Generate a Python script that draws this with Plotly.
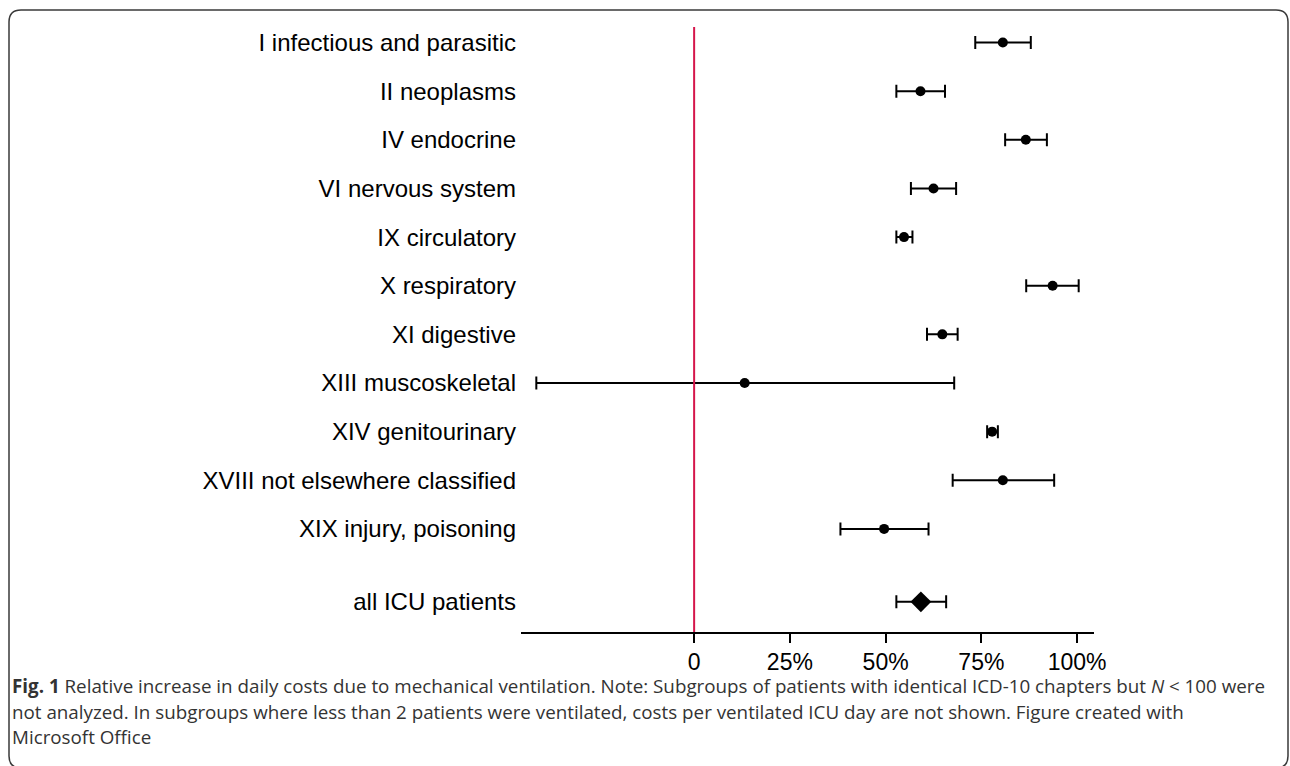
import plotly.graph_objects as go

# ---------------- data ----------------
categories = [
    "I infectious and parasitic",
    "II neoplasms",
    "IV endocrine",
    "VI nervous system",
    "IX circulatory",
    "X respiratory",
    "XI digestive",
    "XIII muscoskeletal",
    "XIV genitourinary",
    "XVIII not elsewhere classified",
    "XIX injury, poisoning",
]
estimate = [80.6, 59.1, 86.6, 62.5, 54.8, 93.6, 64.8, 13.2, 77.8, 80.6, 49.6]
ci_low = [73.4, 52.8, 81.2, 56.6, 52.8, 86.7, 60.8, -41.2, 76.5, 67.5, 38.2]
ci_high = [87.9, 65.5, 92.1, 68.4, 57.0, 100.4, 68.8, 67.9, 79.3, 94.0, 61.2]

overall_label = "all ICU patients"
overall_estimate = [59.2]
overall_low = [52.8]
overall_high = [65.8]

tick_values = [0, 25, 50, 75, 100]
tick_labels = ["0", "25%", "50%", "75%", "100%"]

caption_lines = [
    "<b>Fig. 1</b> Relative increase in daily costs due to mechanical ventilation. Note: Subgroups of patients with identical ICD-10 chapters but <i>N</i> &lt; 100 were",
    "not analyzed. In subgroups where less than 2 patients were ventilated, costs per ventilated ICU day are not shown. Figure created with",
    "Microsoft Office",
]

# ---------------- layout helpers ----------------
W, H = 1290, 766
L, R, T, B = 521, 1094, 27, 632  # plot area in pixels


def px_x(p):
    return (p - L) / (R - L)


def px_y(p):
    return (B - p) / (B - T)


y_rows = list(range(len(categories)))
y_overall = [len(categories) + 0.5]

fig = go.Figure()

fig.add_trace(go.Scatter(
    x=estimate, y=y_rows, mode="markers",
    marker=dict(symbol="circle", size=10, color="black"),
    error_x=dict(type="data", symmetric=False,
                 array=[h - e for h, e in zip(ci_high, estimate)],
                 arrayminus=[e - l for e, l in zip(estimate, ci_low)],
                 color="black", thickness=2, width=6.5),
    showlegend=False, hoverinfo="skip",
))

fig.add_trace(go.Scatter(
    x=overall_estimate, y=y_overall, mode="markers",
    marker=dict(symbol="diamond", size=16, color="black"),
    error_x=dict(type="data", symmetric=False,
                 array=[h - e for h, e in zip(overall_high, overall_estimate)],
                 arrayminus=[e - l for e, l in zip(overall_estimate, overall_low)],
                 color="black", thickness=2, width=6.5),
    showlegend=False, hoverinfo="skip",
))

# red reference line at 0
fig.add_shape(type="line", xref="x", yref="paper", x0=0, x1=0, y0=0, y1=1,
              line=dict(color="#d5164b", width=2), layer="above")

# rounded frame around the figure
x0, x1, y0, y1, r = 9, 1288, 10, 768, 12
pts = [
    ("M", (x0 + r, y0)), ("L", (x1 - r, y0)), ("Q", (x1, y0), (x1, y0 + r)),
    ("L", (x1, y1 - r)), ("Q", (x1, y1), (x1 - r, y1)), ("L", (x0 + r, y1)),
    ("Q", (x0, y1), (x0, y1 - r)), ("L", (x0, y0 + r)), ("Q", (x0, y0), (x0 + r, y0)),
]
path = ""
for item in pts:
    cmd = item[0]
    coords = " ".join(f"{px_x(a):.5f},{px_y(b):.5f}" for a, b in item[1:])
    path += f"{cmd} {coords} "
path += "Z"
fig.add_shape(type="path", path=path, xref="paper", yref="paper",
              line=dict(color="#3a3a3a", width=1.5), layer="above")

# caption
caption_y = [686, 712, 737]
for txt, yy in zip(caption_lines, caption_y):
    fig.add_annotation(text=txt, xref="paper", yref="paper",
                       x=px_x(10), y=px_y(yy), xanchor="left", yanchor="middle",
                       showarrow=False,
                       font=dict(family="Open Sans", size=18.8, color="#333333"))

fig.update_xaxes(
    range=[-45.2, 104.4], tickvals=tick_values, ticktext=tick_labels,
    showline=True, linecolor="black", linewidth=1.5,
    ticks="outside", ticklen=9, tickwidth=1.5, tickcolor="black",
    showgrid=False, zeroline=False,
    tickfont=dict(family="Liberation Sans, Arial", size=23, color="black"),
)
fig.update_yaxes(
    range=[len(categories) + 1.12, -0.32],
    tickvals=y_rows + y_overall, ticktext=categories + [overall_label],
    showgrid=False, zeroline=False, showline=False, ticks="",
    ticklabelstandoff=4,
    tickfont=dict(family="Liberation Sans, Arial", size=24, color="black"),
)

fig.update_layout(
    width=W, height=H,
    margin=dict(l=L, r=W - R, t=T, b=H - B, autoexpand=False),
    plot_bgcolor="white", paper_bgcolor="white",
    font=dict(family="Liberation Sans, Arial", color="black"),
)

fig.write_html("out.html", config={"displayModeBar": False},
               post_script="document.body.style.margin='0';")
